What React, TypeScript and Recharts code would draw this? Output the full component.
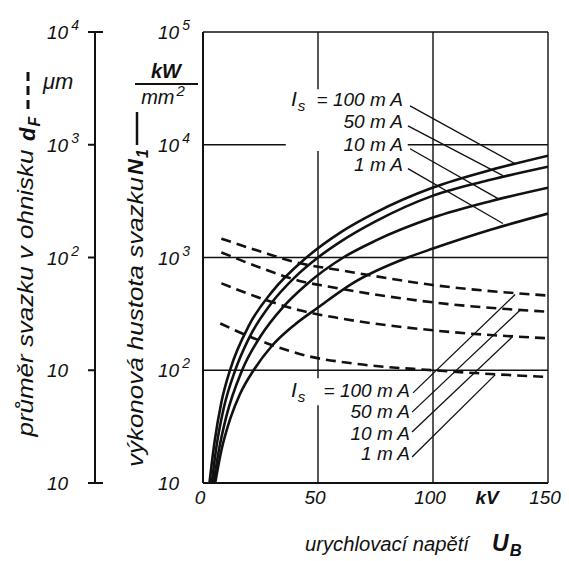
import {
  LineChart,
  Line,
  XAxis,
  YAxis,
  CartesianGrid,
  ReferenceLine,
  ReferenceArea,
} from "recharts";

const FONT = "'Liberation Sans', Arial, sans-serif";
const INK = "#111";

// výkonová hustota N1 (kW/mm2) vs. urychlovací napětí UB (kV)
const n100U = [2.8, 5, 8, 12, 20, 30, 45, 60, 75, 100, 125, 150];
const n100 = [10, 23, 52, 104, 250, 496, 1000, 1680, 2500, 4170, 5960, 8000];
const n50U = [3.8, 6, 9, 14, 20, 30, 40, 50, 60, 75, 100, 125, 150];
const n50 = [10, 22, 46, 100, 193, 400, 670, 1000, 1390, 2090, 3540, 4890, 6380];
const n10U = [4.6, 7, 10, 17, 25, 35, 45, 61, 75, 100, 125, 150];
const n10 = [10, 20, 38, 100, 200, 367, 577, 1000, 1410, 2260, 3160, 4160];
const n1U = [5.3, 8, 12, 16, 22, 30, 40, 50, 65, 89, 100, 125, 150];
const n1 = [10, 19.5, 38, 61, 100, 165, 255, 360, 590, 1000, 1200, 1760, 2450];

// průměr svazku dF (um)
const d100U = [8, 28, 41, 60, 100, 150];
const d100 = [147, 108, 90, 77, 57, 46];
const d50U = [8, 28, 42, 55, 100, 150];
const d50 = [111, 77, 62, 55, 40, 33];
const d10U = [8, 28, 42, 60, 100, 150];
const d10 = [59, 41.5, 34, 28.8, 22.6, 19.2];
const d1U = [7.5, 20, 28, 46, 65, 100, 150];
const d1 = [26, 20, 17.3, 13.3, 11.5, 10, 8.7];

const uTicks = [0, 50, 100, 150];
const nTicks = [10, 100, 1000, 10000, 100000];
const nTickExp = ["", "2", "3", "4", "5"];
const dTicks = [1, 10, 100, 1000, 10000];
const dTickExp = ["", "", "2", "3", "4"];

const currents = ["100", "50", "10", "1"];
// odkazové čáry k popiskům (UB, N1) a (UB, dF)
const upLeadFrom = [[90, 22100], [89.1, 14700], [90, 9220], [89.1, 6140]];
const upLeadTo = [[135.7, 6790], [130.4, 5320], [128.3, 3330], [130.4, 2000]];
const lowLeadFrom = [[91.3, 6.3], [90.9, 4.25], [90.9, 2.83], [90.9, 1.7]];
const lowLeadTo = [[135.7, 47], [137.8, 34], [134.3, 19.6], [127, 9.1]];

const N_AX = "inner";
const D_AX = "outer";

const pts = (us: number[], vs: number[]) => us.map((u, i) => ({ u, v: vs[i] }));

const solid = [pts(n100U, n100), pts(n50U, n50), pts(n10U, n10), pts(n1U, n1)];
const dashed = [pts(d100U, d100), pts(d50U, d50), pts(d10U, d10), pts(d1U, d1)];

const txt = { fontFamily: FONT, fontStyle: "italic" as const, fill: INK };

function PowTick(props: any) {
  const { x, y, payload, ticks, exps, dx, bar } = props;
  const i = ticks.indexOf(payload.value);
  const e = exps[i] ?? "";
  const end = i === 0 || i === ticks.length - 1;
  return (
    <g>
      <text x={x - dx} y={y + 7} fontSize={19} {...txt}>
        10
        {e && (
          <tspan dx={3} dy={-9} fontSize={14}>
            {e}
          </tspan>
        )}
      </text>
      {bar && end && <line x1={x + 7} x2={x + 15} y1={y} y2={y} stroke={INK} strokeWidth={2} />}
    </g>
  );
}

function UTick(props: any) {
  const { x, y, payload } = props;
  return (
    <text x={x - 3} y={y + 21} textAnchor="middle" fontSize={19} {...txt}>
      {payload.value}
    </text>
  );
}

function Sub({ x, y, main, sub, size = 19, bold = false, subSize = 0.72 }: any) {
  return (
    <text x={x} y={y} fontSize={size} fontWeight={bold ? "bold" : "normal"} {...txt}>
      {main}
      <tspan dx={1} dy={5} fontSize={size * subSize}>
        {sub}
      </tspan>
    </text>
  );
}

function Overlay() {
  const upY = [106, 128, 151, 171];
  const lowY = [397, 418, 440, 460];
  return (
    <svg
      width={569}
      height={561}
      style={{ position: "absolute", left: 0, top: 0, pointerEvents: "none", overflow: "visible" }}
    >
      {/* levá osa dF */}
      <text
        x={33}
        y={293}
        transform="rotate(-90 33 293)"
        textAnchor="middle"
        fontSize={22}
        textLength={287}
        lengthAdjust="spacingAndGlyphs"
        {...txt}
      >
        průměr svazku v ohnisku
      </text>
      <g transform="rotate(-90 35 128)">
        <Sub x={22} y={128} main="d" sub="F" size={22} bold />
      </g>
      <line x1={28} x2={28} y1={72} y2={112} stroke={INK} strokeWidth={3} strokeDasharray="9 5" />
      <text x={43} y={89} fontSize={22} {...txt}>
        μm
      </text>

      {/* vnitřní osa N1 */}
      <text
        x={143}
        y={322}
        transform="rotate(-90 143 322)"
        textAnchor="middle"
        fontSize={22}
        textLength={290}
        lengthAdjust="spacingAndGlyphs"
        {...txt}
      >
        výkonová hustota svazku
      </text>
      <g transform="rotate(-90 143 162)">
        <Sub x={130} y={162} main="N" sub="1" size={22} bold />
      </g>
      <line x1={137} x2={137} y1={112} y2={145} stroke={INK} strokeWidth={2.5} />
      <text x={166} y={78} textAnchor="middle" fontSize={20} fontWeight="bold" {...txt}>
        kW
      </text>
      <line x1={135} x2={198} y1={84} y2={84} stroke={INK} strokeWidth={2} />
      <text x={163} y={104} textAnchor="middle" fontSize={20} {...txt}>
        mm
        <tspan dx={2} dy={-8} fontSize={15}>
          2
        </tspan>
      </text>

      {/* popisky proudů */}
      <Sub x={291} y={upY[0]} main="I" sub="s" size={21} />
      <Sub x={291} y={lowY[0]} main="I" sub="s" size={21} />
      {currents.map((c, i) => (
        <g key={c}>
          <text x={403} y={upY[i]} textAnchor="end" fontSize={19} {...txt}>
            {i === 0 ? "= " : ""}
            {c} m A
          </text>
          <text x={410} y={lowY[i]} textAnchor="end" fontSize={19} {...txt}>
            {i === 0 ? "= " : ""}
            {c} m A
          </text>
        </g>
      ))}

      {/* osa x */}
      <text x={487} y={504} textAnchor="middle" fontSize={19} fontWeight="bold" {...txt}>
        kV
      </text>
      <text x={305} y={551} fontSize={20} textLength={164} lengthAdjust="spacingAndGlyphs" {...txt}>
        urychlovací napětí
      </text>
      <Sub x={492} y={551} main="U" sub="B" size={23} bold />
    </svg>
  );
}

export default function App() {
  return (
    <div style={{ position: "absolute", left: 0, top: 0, width: 569, height: 561, background: "#fff" }}>
      <LineChart width={569} height={561} margin={{ top: 32, right: 21, left: 0, bottom: 48 }}>
        <CartesianGrid yAxisId={N_AX} stroke={INK} strokeWidth={1.4} strokeOpacity={1} />
        <XAxis
          dataKey="u"
          type="number"
          domain={[0, 150]}
          ticks={uTicks}
          allowDataOverflow
          height={30}
          tickSize={0}
          tickMargin={0}
          tickLine={false}
          axisLine={{ stroke: INK, strokeWidth: 2 }}
          tick={<UTick />}
        />
        <YAxis
          yAxisId={N_AX}
          scale="log"
          type="number"
          domain={[10, 100000]}
          ticks={nTicks}
          allowDataOverflow
          width={108}
          tickSize={0}
          tickMargin={0}
          tickLine={false}
          axisLine={{ stroke: INK, strokeWidth: 2 }}
          tick={(p: any) => <PowTick {...p} ticks={nTicks} exps={nTickExp} dx={45} />}
        />
        <YAxis
          yAxisId={D_AX}
          scale="log"
          type="number"
          domain={[1, 10000]}
          ticks={dTicks}
          allowDataOverflow
          width={95}
          tickSize={7}
          tickMargin={0}
          tickLine={{ stroke: INK, strokeWidth: 2 }}
          axisLine={{ stroke: INK, strokeWidth: 2 }}
          tick={(p: any) => <PowTick {...p} ticks={dTicks} exps={dTickExp} dx={41} bar />}
        />
        <ReferenceArea yAxisId={N_AX} x1={36} x2={89} y1={8800} y2={31000} fill="#fff" fillOpacity={1} stroke="none" />
        <ReferenceArea yAxisId={N_AX} x1={37} x2={90} y1={49} y2={85} fill="#fff" fillOpacity={1} stroke="none" />
        {solid.map((d, i) => (
          <Line
            key={"s" + i}
            yAxisId={N_AX}
            data={d}
            dataKey="v"
            type="monotone"
            stroke={INK}
            strokeWidth={2.6}
            dot={false}
            isAnimationActive={false}
          />
        ))}
        {dashed.map((d, i) => (
          <Line
            key={"d" + i}
            yAxisId={D_AX}
            data={d}
            dataKey="v"
            type="monotone"
            stroke={INK}
            strokeWidth={2.6}
            strokeDasharray="10 6"
            dot={false}
            isAnimationActive={false}
          />
        ))}
        {upLeadFrom.map((f, i) => (
          <ReferenceLine
            key={"ul" + i}
            yAxisId={N_AX}
            segment={[
              { x: f[0], y: f[1] },
              { x: upLeadTo[i][0], y: upLeadTo[i][1] },
            ]}
            stroke={INK}
            strokeWidth={1.3}
          />
        ))}
        {lowLeadFrom.map((f, i) => (
          <ReferenceLine
            key={"ll" + i}
            yAxisId={D_AX}
            segment={[
              { x: f[0], y: f[1] },
              { x: lowLeadTo[i][0], y: lowLeadTo[i][1] },
            ]}
            stroke={INK}
            strokeWidth={1.3}
          />
        ))}
      </LineChart>
      <Overlay />
    </div>
  );
}
